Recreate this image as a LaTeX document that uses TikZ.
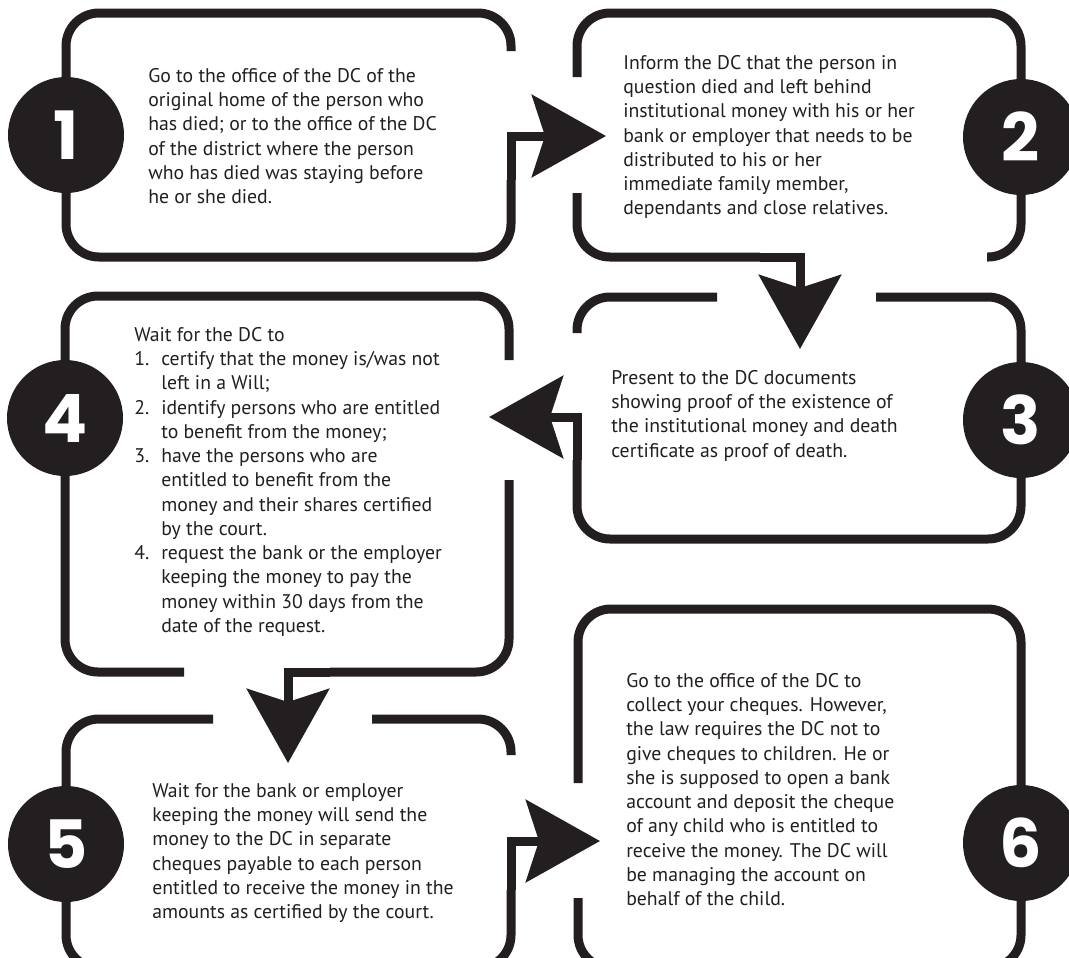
\documentclass[tikz,border=0pt]{standalone}
\usepackage{fontspec}
\setmainfont{PT Sans}
\newfontfamily\numfont{Poppins}
\usepackage{tikz}
\usetikzlibrary{arrows.meta}
\definecolor{dfink}{RGB}{35,31,32}
\tikzstyle{boxline} = [line width=6.75pt, draw=dfink, rounded corners=24.75pt]
\tikzstyle{arrowline} = [line width=6.75pt, draw=dfink, -{Stealth[length=55.5pt, width=61.5pt, inset=9.75pt]}]
\tikzstyle{numcircle} = [circle, fill=dfink, minimum size=87pt, inner sep=0pt, text=white, font=\numfont\bfseries\fontsize{50pt}{50pt}\selectfont]
\tikzstyle{steptext} = [anchor=north west, inner sep=0pt, align=left, text=dfink, font=\fontsize{14.8pt}{18.2pt}\selectfont]

\begin{document}
\begin{tikzpicture}[x=0.75pt, y=-0.75pt]
\path[fill=white, use as bounding box] (0,0) rectangle (1069,957);
% Boxes
\draw[boxline] (511,51) |- (66,13) |- (511,257) -- (511,180);
\draw[boxline] (987,257) -| (1021,13) -| (577,77);
\draw[boxline] (577,193) |- (760,257);
\draw[boxline] (876,297) -| (1021,539) -| (577,460);
\draw[boxline] (717,297) -| (577,333);
\draw[boxline] (509,360) |- (65,296) |- (184,672);
\draw[boxline] (509,480) |- (330,672);
\draw[boxline] (213,719) -| (66,968) -| (511,890);
\draw[boxline] (372,719) -| (511,755);
\draw[boxline] (578,783) |- (1021,609) |- (578,968) -- (578,898);

% Connectors
\coordinate (out1) at (511,180);
\coordinate (in2) at (606,136);
\coordinate (out2) at (760,257);
\coordinate (in3) at (800,349);
\coordinate (out3) at (577,460);
\coordinate (in4) at (489,417);
\coordinate (out4) at (330,672);
\coordinate (in5) at (288,763);
\coordinate (out5) at (511,890);
\coordinate (in6) at (600,841);
\draw[arrowline] (out1) |- (in2);
\draw[arrowline] (out2) -| (in3);
\draw[arrowline] (out3) |- (in4);
\draw[arrowline] (out4) -| (in5);
\draw[arrowline] (out5) |- (in6);

% Numbers
\node[numcircle] (num1) at (66,135) {1};
\node[numcircle] (num2) at (1021,137) {2};
\node[numcircle] (num3) at (1021,420) {3};
\node[numcircle] (num4) at (65,418) {4};
\node[numcircle] (num5) at (66,844) {5};
\node[numcircle] (num6) at (1021,843) {6};

% Texts
\node[steptext] (step1) at (148,65) {\strut Go to the office of the DC of the\\
original home of the person who\\
has died; or to the office of the DC\\
of the district where the person\\
who has died was staying before\\
he or she died.};
\node[steptext] (step2) at (623,52) {\strut Inform the DC that the person in\\
question died and left behind\\
institutional money with his or her\\
bank or employer that needs to be\\
distributed to his or her\\
immediate family member,\\
dependants and close relatives.};
\node[steptext] (step3) at (611,367) {\strut Present to the DC documents\\
showing proof of the existence of\\
the institutional money and death\\
certificate as proof of death.};
\node[steptext] (step4) at (134,324) {\strut Wait for the DC to\\
\makebox[20.25pt][l]{1.}certify that the money is/was not\\
\hspace*{20.25pt}left in a Will;\\
\makebox[20.25pt][l]{2.}identify persons who are entitled\\
\hspace*{20.25pt}to benefit from the money;\\
\makebox[20.25pt][l]{3.}have the persons who are\\
\hspace*{20.25pt}entitled to benefit from the\\
\hspace*{20.25pt}money and their shares certified\\
\hspace*{20.25pt}by the court.\\
\makebox[20.25pt][l]{4.}request the bank or the employer\\
\hspace*{20.25pt}keeping the money to pay the\\
\hspace*{20.25pt}money within 30 days from the\\
\hspace*{20.25pt}date of the request.};
\node[steptext] (step5) at (152,780) {\strut Wait for the bank or employer\\
keeping the money will send the\\
money to the DC in separate\\
cheques payable to each person\\
entitled to receive the money in the\\
amounts as certified by the court.};
\node[steptext] (step6) at (626,670) {\strut Go to the office of the DC to\\
collect your cheques. However,\\
the law requires the DC not to\\
give cheques to children. He or\\
she is supposed to open a bank\\
account and deposit the cheque\\
of any child who is entitled to\\
receive the money. The DC will\\
be managing the account on\\
behalf of the child.};
\end{tikzpicture}
\end{document}
